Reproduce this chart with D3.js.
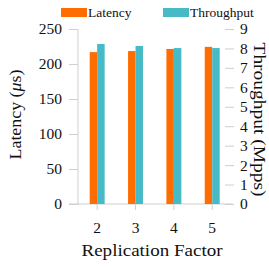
<!DOCTYPE html>
<html>
<head>
<meta charset="utf-8">
<script src="https://cdn.jsdelivr.net/npm/d3@7"></script>
<style>
  body { margin: 0; background: #fff; }
  svg text { font-family: "Liberation Serif", "Times New Roman", serif !important; fill: #111; }
</style>
</head>
<body>
<div id="wrapper"></div>
<script>
const factors = ["2", "3", "4", "5"]
const series = ["Latency", "Throughput"]
const latency = [217, 218.5, 221.5, 224.5]      // µs
const throughput = [8.23, 8.13, 8.02, 8.02]      // Mpps
const latencyTicks = [0, 50, 100, 150, 200, 250]
const throughputTicks = [0, 1, 2, 3, 4, 5, 6, 7, 8, 9]
const colors = ["#ff6d00", "#46bbc7"]

function drawChart() {
  const width = 269
  const height = 267
  const dims = { left: 78, right: 231.4, top: 29, bottom: 204 }

  const svg = d3.select("#wrapper").append("svg")
    .attr("width", width)
    .attr("height", height)

  // scales
  const xScale = d3.scaleBand()
    .domain(factors)
    .range([dims.left, dims.right])
    .paddingInner(0.61)
    .paddingOuter(0.305)
  const innerScale = d3.scaleBand()
    .domain(series)
    .range([0, xScale.bandwidth()])
  const yLeft = d3.scaleLinear().domain([0, 250]).range([dims.bottom, dims.top])
  const yRight = d3.scaleLinear().domain([0, 9]).range([dims.bottom, dims.top])

  const axisColor = "#cfcfcf"
  const tickFont = "15.5px"
  const titleFont = "17px"

  // left axis
  const leftAxis = svg.append("g")
    .attr("transform", `translate(${dims.left},0)`)
    .call(d3.axisLeft(yLeft).tickValues(latencyTicks).tickSize(9).tickPadding(7))
  leftAxis.select(".domain").attr("stroke", axisColor).attr("d", `M0,${dims.top}V${dims.bottom}`)
  leftAxis.selectAll(".tick line").attr("stroke", axisColor)
  leftAxis.selectAll(".tick text").style("font-size", tickFont)

  // right axis (ticks only, outside the plot)
  const rightAxis = svg.append("g")
    .attr("transform", `translate(225,0)`)
    .call(d3.axisRight(yRight).tickValues(throughputTicks).tickSize(9).tickPadding(6))
  rightAxis.select(".domain").remove()
  rightAxis.selectAll(".tick line").attr("stroke", axisColor)
  rightAxis.selectAll(".tick text").style("font-size", tickFont)

  // bottom axis
  const bottomAxis = svg.append("g")
    .attr("transform", `translate(0,${dims.bottom})`)
    .call(d3.axisBottom(xScale).tickSize(6).tickPadding(12))
  bottomAxis.select(".domain").attr("stroke", axisColor).attr("d", `M${dims.left - 9},0H${dims.right + 1}`)
  bottomAxis.selectAll(".tick line").attr("stroke", axisColor)
  bottomAxis.selectAll(".tick text").style("font-size", tickFont)

  // bars
  const groups = svg.append("g").selectAll("g")
    .data(factors)
    .join("g")
      .attr("transform", d => `translate(${xScale(d)},0)`)

  groups.append("rect")
    .attr("x", innerScale("Latency"))
    .attr("width", innerScale.bandwidth())
    .attr("y", (d, i) => yLeft(latency[i]))
    .attr("height", (d, i) => yLeft(0) - yLeft(latency[i]))
    .attr("fill", colors[0])

  groups.append("rect")
    .attr("x", innerScale("Throughput"))
    .attr("width", innerScale.bandwidth())
    .attr("y", (d, i) => yRight(throughput[i]))
    .attr("height", (d, i) => yRight(0) - yRight(throughput[i]))
    .attr("fill", colors[1])

  // axis titles
  svg.append("text")
    .attr("transform", "translate(152,256) scale(1.12,1)")
    .attr("text-anchor", "middle")
    .style("font-size", titleFont)
    .text("Replication Factor")

  const ylab = svg.append("text")
    .attr("transform", `translate(20.5,114.5) rotate(-90)`)
    .attr("text-anchor", "middle")
    .attr("textLength", 90)
    .attr("lengthAdjust", "spacingAndGlyphs")
    .style("font-size", titleFont)
  ylab.append("tspan").text("Latency (")
  ylab.append("tspan").style("font-style", "italic").text("μ")
  ylab.append("tspan").text("s)")

  svg.append("text")
    .attr("transform", `translate(254,119.5) rotate(90)`)
    .attr("text-anchor", "middle")
    .attr("textLength", 154)
    .attr("lengthAdjust", "spacingAndGlyphs")
    .style("font-size", "16px")
    .text("Throughput (Mpps)")

  // legend
  const legendX = [61, 163]
  const legend = svg.append("g").selectAll("g")
    .data(series)
    .join("g")
      .attr("transform", (d, i) => `translate(${legendX[i]},8)`)
  legend.append("rect")
    .attr("width", 26)
    .attr("height", 9)
    .attr("fill", (d, i) => colors[i])
  legend.append("text")
    .attr("x", 27)
    .attr("y", 9)
    .style("font-size", "13.5px")
    .text(d => d)
}

drawChart()
</script>
</body>
</html>
